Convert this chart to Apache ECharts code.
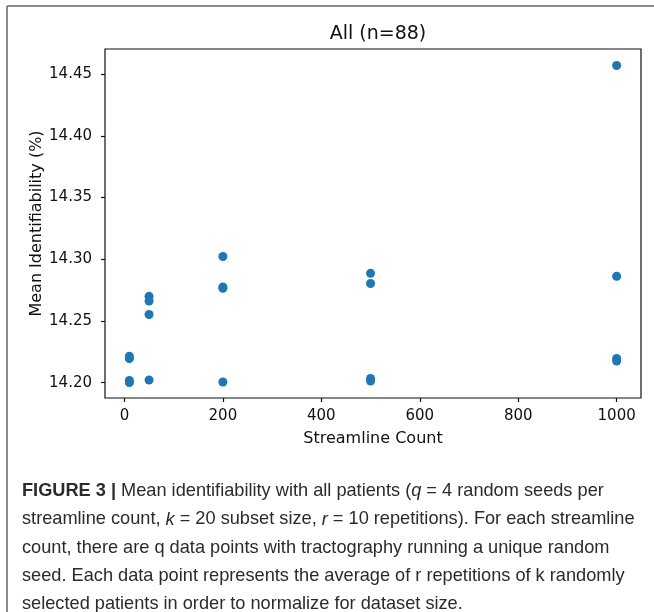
<!DOCTYPE html>
<html>
<head>
<meta charset="utf-8">
<script src="https://cdn.jsdelivr.net/npm/echarts@6/dist/echarts.min.js"></script>
<style>
  html, body { margin: 0; padding: 0; background: #fff; }
  #chart { width: 654px; height: 612px; }
</style>
</head>
<body>
<div id="chart"></div>
<script>
// streamline counts on the x axis, four seeds (q = 4) per count
const streamlineCounts = [10, 50, 200, 500, 1000]
const seed1 = [14.2215, 14.2700, 14.3023, 14.2886, 14.4570]
const seed2 = [14.2195, 14.2662, 14.2775, 14.2804, 14.2863]
const seed3 = [14.2018, 14.2553, 14.2765, 14.2034, 14.2196]
const seed4 = [14.2002, 14.2022, 14.2006, 14.2014, 14.2176]

const xTicks = [0, 200, 400, 600, 800, 1000]
const yTicks = [14.20, 14.25, 14.30, 14.35, 14.40, 14.45]

const points = []
;[seed1, seed2, seed3, seed4].forEach(function (seed) {
  seed.forEach(function (v, i) {
    points.push([streamlineCounts[i], v])
  })
})

const captionFont = '"Liberation Sans", Arial, sans-serif'
const plotFont = '"DejaVu Sans", sans-serif'
const capSize = 18.2
const capLine = 28.3

const chart = echarts.init(document.getElementById('chart'))

chart.setOption({
  animation: false,
  title: {
    text: 'All (n=88)',
    left: 373,
    top: 20,
    textAlign: 'center',
    textStyle: { fontFamily: plotFont, fontSize: 19, fontWeight: 'normal', color: '#111' }
  },
  grid: {
    left: 105,
    right: 13,
    top: 49,
    bottom: 214,
    show: true,
    borderColor: '#111',
    borderWidth: 1.2,
    backgroundColor: '#fff'
  },
  xAxis: {
    type: 'value',
    min: -39.5,
    max: 1049.5,
    name: 'Streamline Count',
    nameLocation: 'middle',
    nameGap: 33,
    nameTextStyle: { fontFamily: plotFont, fontSize: 16, color: '#111' },
    axisLine: { show: false, onZero: false },
    splitLine: { show: false },
    axisTick: { show: true, length: 4, customValues: xTicks, lineStyle: { color: '#111', width: 1.2 } },
    axisLabel: {
      customValues: xTicks,
      margin: 11,
      fontFamily: plotFont,
      fontSize: 15,
      color: '#111',
      formatter: function (v) { return String(v) }
    }
  },
  yAxis: {
    type: 'value',
    min: 14.1876,
    max: 14.4704,
    name: 'Mean Identifiability (%)',
    nameLocation: 'middle',
    nameMoveOverlap: false,
    nameGap: 60,
    nameTextStyle: { fontFamily: plotFont, fontSize: 16, color: '#111' },
    axisLine: { show: false, onZero: false },
    splitLine: { show: false },
    axisTick: { show: true, length: 4, customValues: yTicks, lineStyle: { color: '#111', width: 1.2 } },
    axisLabel: {
      customValues: yTicks,
      margin: 13,
      fontFamily: plotFont,
      fontSize: 15,
      color: '#111',
      formatter: function (v) { return v.toFixed(2) }
    }
  },
  series: [{
    type: 'scatter',
    data: points,
    symbolSize: 9,
    itemStyle: { color: '#1f77b4', opacity: 1 }
  }],
  graphic: [
    // figure frame, left and top edges
    { type: 'line', shape: { x1: 7, y1: 6, x2: 7, y2: 612 }, style: { stroke: '#8a8a8a', lineWidth: 2 } },
    { type: 'line', shape: { x1: 7, y1: 6, x2: 654, y2: 6 }, style: { stroke: '#8a8a8a', lineWidth: 2 } },
    {
      type: 'text',
      left: 22,
      top: 477,
      style: {
        text: [
          '{b|FIGURE 3 |} Mean identifiability with all patients ({i|q} = 4 random seeds per',
          'streamline count, {i|k} = 20 subset size, {i|r} = 10 repetitions). For each streamline',
          'count, there are q data points with tractography running a unique random',
          'seed. Each data point represents the average of r repetitions of k randomly',
          'selected patients in order to normalize for dataset size.'
        ].join('\n'),
        fontFamily: captionFont,
        fontSize: capSize,
        lineHeight: capLine,
        fill: '#2b2b2b',
        rich: {
          b: { fontFamily: captionFont, fontSize: capSize, fontWeight: 'bold', lineHeight: capLine, fill: '#2b2b2b' },
          i: { fontFamily: captionFont, fontSize: capSize, fontStyle: 'italic', lineHeight: capLine, fill: '#2b2b2b' }
        }
      }
    }
  ]
})
</script>
</body>
</html>
